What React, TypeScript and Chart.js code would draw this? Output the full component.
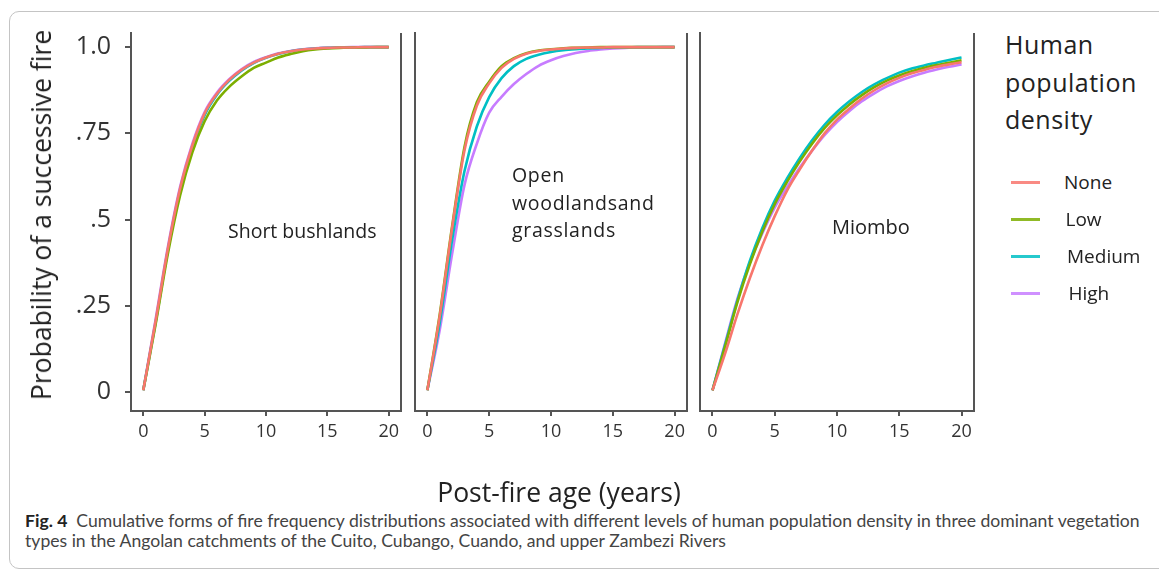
import React, { useEffect, useRef } from "react";
import { Chart, registerables } from "chart.js";

Chart.register(...registerables);

// ---------- data ----------
const ages = [0, 1, 2, 3, 4, 5, 6, 7, 8, 9, 10, 11, 12, 13, 14, 15, 16, 17, 18, 19, 20];
const seriesNames = ["None", "Low", "Medium", "High"];
const seriesColors = ["#F8766D", "#7CAE00", "#00BFC4", "#C77CFF"];
const xTicks = [0, 5, 10, 15, 20];
const yTicks = [0, 0.25, 0.5, 0.75, 1];
const yTickLabels = ["0", ".25", ".5", ".75", "1.0"];
const panelLabels = ["Short bushlands", "Open\nwoodlandsand\ngrasslands", "Miombo"];

// Short bushlands
const shortNone = [0.005, 0.205, 0.415, 0.59, 0.715, 0.808, 0.865, 0.905, 0.934, 0.955, 0.97, 0.981, 0.988, 0.993, 0.996, 0.998, 0.999, 0.999, 1, 1, 1];
const shortLow = [0.005, 0.195, 0.4, 0.57, 0.695, 0.785, 0.845, 0.885, 0.915, 0.94, 0.955, 0.97, 0.98, 0.988, 0.993, 0.996, 0.998, 0.999, 0.999, 1, 1];
const shortMedium = [0.005, 0.2, 0.41, 0.585, 0.71, 0.803, 0.862, 0.902, 0.932, 0.954, 0.969, 0.98, 0.988, 0.993, 0.996, 0.998, 0.999, 0.999, 1, 1, 1];
const shortHigh = [0.005, 0.21, 0.42, 0.595, 0.72, 0.812, 0.868, 0.907, 0.936, 0.957, 0.971, 0.982, 0.989, 0.994, 0.997, 0.998, 0.999, 1, 1, 1, 1];

// Open woodlands and grasslands
const openNone = [0.005, 0.22, 0.475, 0.7, 0.83, 0.895, 0.94, 0.966, 0.981, 0.989, 0.993, 0.996, 0.998, 0.999, 0.999, 1, 1, 1, 1, 1, 1];
const openLow = [0.005, 0.225, 0.48, 0.71, 0.84, 0.9, 0.945, 0.968, 0.982, 0.99, 0.994, 0.997, 0.998, 0.999, 1, 1, 1, 1, 1, 1, 1];
const openMedium = [0.005, 0.2, 0.44, 0.64, 0.77, 0.855, 0.91, 0.945, 0.966, 0.978, 0.986, 0.991, 0.994, 0.996, 0.998, 0.999, 0.999, 1, 1, 1, 1];
const openHigh = [0.005, 0.18, 0.4, 0.6, 0.72, 0.81, 0.856, 0.893, 0.922, 0.946, 0.962, 0.974, 0.983, 0.989, 0.993, 0.996, 0.998, 0.999, 0.999, 1, 1];

// Miombo
const miomboNone = [0.005, 0.11, 0.225, 0.33, 0.425, 0.51, 0.585, 0.645, 0.7, 0.75, 0.79, 0.822, 0.851, 0.875, 0.895, 0.911, 0.924, 0.934, 0.943, 0.95, 0.956];
const miomboLow = [0.005, 0.13, 0.26, 0.37, 0.465, 0.545, 0.61, 0.668, 0.72, 0.765, 0.802, 0.834, 0.861, 0.884, 0.903, 0.918, 0.93, 0.94, 0.948, 0.955, 0.962];
const miomboMedium = [0.005, 0.135, 0.265, 0.38, 0.475, 0.555, 0.62, 0.678, 0.73, 0.775, 0.812, 0.843, 0.87, 0.892, 0.91, 0.926, 0.938, 0.947, 0.955, 0.963, 0.97];
const miomboHigh = [0.005, 0.14, 0.27, 0.375, 0.46, 0.535, 0.595, 0.65, 0.7, 0.745, 0.783, 0.815, 0.843, 0.866, 0.886, 0.902, 0.915, 0.926, 0.935, 0.943, 0.95];

const panelSeries = [
  [shortNone, shortLow, shortMedium, shortHigh],
  [openNone, openLow, openMedium, openHigh],
  [miomboNone, miomboLow, miomboMedium, miomboHigh],
];

// ---------- layout (positions, sizes) ----------
const panelBoxes = [
  { left: 0, top: 0, width: 410, height: 460, yWidth: 131, padRight: 9, showY: true },
  { left: 405, top: 0, width: 295, height: 460, yWidth: 10, padRight: 13, showY: false },
  { left: 690, top: 0, width: 300, height: 460, yWidth: 10, padRight: 16, showY: false },
];
const PLOT_TOP = 33;
const X_AXIS_HEIGHT = 49;
const AXIS_COLOR = "#555555";
const TEXT_COLOR = "#333333";

const rightFrame = {
  id: "rightFrame",
  afterDraw(chart: any) {
    const { ctx, chartArea } = chart;
    ctx.save();
    ctx.strokeStyle = AXIS_COLOR;
    ctx.lineWidth = 2;
    ctx.beginPath();
    ctx.moveTo(chartArea.right, chartArea.top);
    ctx.lineTo(chartArea.right, chartArea.bottom + 1);
    ctx.stroke();
    ctx.restore();
  },
};

function Panel({ index }: { index: number }) {
  const ref = useRef<HTMLCanvasElement | null>(null);
  const box = panelBoxes[index];
  useEffect(() => {
    if (!ref.current) return;
    const series = panelSeries[index];
    const chart = new Chart(ref.current, {
      type: "line",
      data: {
        datasets: series.map((vals, i) => ({
          label: seriesNames[i],
          data: ages.map((a, j) => ({ x: a, y: vals[j] })),
          borderColor: seriesColors[i],
          backgroundColor: seriesColors[i],
          borderWidth: 2.6,
          pointRadius: 0,
          cubicInterpolationMode: "monotone" as const,
          fill: false,
        })),
      },
      options: {
        responsive: false,
        animation: false,
        devicePixelRatio: 1,
        layout: { padding: { top: PLOT_TOP, right: box.padRight, left: 0, bottom: 0 } },
        plugins: { legend: { display: false }, tooltip: { enabled: false }, title: { display: false } },
        scales: {
          x: {
            type: "linear",
            min: -1,
            max: 21,
            afterBuildTicks: (s: any) => {
              s.ticks = xTicks.map((v) => ({ value: v }));
            },
            afterFit: (s: any) => {
              s.height = X_AXIS_HEIGHT;
            },
            ticks: {
              color: TEXT_COLOR,
              font: { family: "'Open Sans', sans-serif", size: 18 },
              padding: 5,
              maxRotation: 0,
              autoSkip: false,
            },
            grid: { drawOnChartArea: false, drawTicks: true, tickLength: 5, color: AXIS_COLOR, lineWidth: 2 },
            border: { display: true, color: AXIS_COLOR, width: 2 },
          },
          y: {
            type: "linear",
            min: -0.055,
            max: 1.041,
            afterBuildTicks: (s: any) => {
              s.ticks = yTicks.map((v) => ({ value: v }));
            },
            afterFit: (s: any) => {
              s.width = box.yWidth;
            },
            ticks: {
              display: box.showY,
              color: TEXT_COLOR,
              font: { family: "'Open Sans', sans-serif", size: 25 },
              padding: 14,
              callback: (_v: any, i: number) => yTickLabels[i],
            },
            grid: { display: box.showY, drawOnChartArea: false, drawTicks: true, tickLength: 6, color: AXIS_COLOR, lineWidth: 2 },
            border: { display: true, color: AXIS_COLOR, width: 2 },
          },
        },
      },
      plugins: [rightFrame],
    } as any);
    return () => chart.destroy();
  }, [index]);
  return (
    <canvas
      ref={ref}
      width={box.width}
      height={box.height}
      style={{ position: "absolute", left: box.left, top: box.top, width: box.width, height: box.height }}
    />
  );
}

const labelFont = "'Open Sans', sans-serif";

export default function App() {
  const legendRows = [182, 219, 256, 293];
  return (
    <div
      style={{
        position: "fixed",
        left: 0,
        top: 0,
        width: 1159,
        height: 572,
        background: "#ffffff",
        overflow: "hidden",
        fontFamily: labelFont,
      }}
    >
      <div
        style={{
          position: "absolute",
          left: 9,
          top: 11,
          width: 1180,
          height: 556,
          border: "1.5px solid #c4c4c4",
          borderRadius: 10,
        }}
      />
      {panelBoxes.map((_, i) => (
        <Panel key={i} index={i} />
      ))}

      {/* y axis title */}
      <div
        style={{
          position: "absolute",
          left: 41,
          top: 215,
          transform: "translate(-50%, -50%) rotate(-90deg)",
          whiteSpace: "nowrap",
          fontSize: 26.5,
          color: "#222",
          lineHeight: "28px",
        }}
      >
        Probability of a successive fire
      </div>

      {/* panel labels */}
      <div style={{ position: "absolute", left: 228, top: 217, fontSize: 19.5, color: "#222", lineHeight: "28px", whiteSpace: "pre" }}>
        {panelLabels[0]}
      </div>
      <div style={{ position: "absolute", left: 512, top: 161, fontSize: 19.5, color: "#222", lineHeight: "27.5px", whiteSpace: "pre", letterSpacing: 0.7 }}>
        {panelLabels[1]}
      </div>
      <div style={{ position: "absolute", left: 832, top: 213, fontSize: 20, color: "#222", lineHeight: "28px", whiteSpace: "pre" }}>
        {panelLabels[2]}
      </div>

      {/* legend */}
      <div style={{ position: "absolute", left: 1005, top: 26, fontSize: 25, color: "#222", lineHeight: "37.5px", letterSpacing: 0.5 }}>
        Human
        <br />
        population
        <br />
        density
      </div>
      {seriesNames.map((name, i) => (
        <React.Fragment key={name}>
          <div
            style={{
              position: "absolute",
              left: 1011,
              top: legendRows[i] - 1.5,
              width: 29,
              height: 3,
              background: seriesColors[i],
              opacity: 0.85,
            }}
          />
          <div
            style={{
              position: "absolute",
              left: 1064 + i * 1.5,
              top: legendRows[i] - 14,
              fontSize: 19,
              lineHeight: "28px",
              color: "#222",
            }}
          >
            {name}
          </div>
        </React.Fragment>
      ))}

      {/* x axis title */}
      <div
        style={{
          position: "absolute",
          left: 559,
          top: 492,
          transform: "translate(-50%, -50%)",
          whiteSpace: "nowrap",
          fontSize: 26.5,
          lineHeight: "32px",
          color: "#222",
        }}
      >
        Post-fire age (years)
      </div>

      {/* caption */}
      <div
        style={{
          position: "absolute",
          left: 25,
          top: 511,
          whiteSpace: "nowrap",
          fontSize: 17.6,
          lineHeight: "20px",
          fontFamily: "Lato, 'Open Sans', sans-serif",
          color: "#444",
        }}
      >
        <b style={{ color: "#222" }}>Fig. 4</b>&nbsp; Cumulative forms of fire frequency distributions associated with different levels of human population density in three dominant vegetation
        <br />
        types in the Angolan catchments of the Cuito, Cubango, Cuando, and upper Zambezi Rivers
      </div>
    </div>
  );
}
